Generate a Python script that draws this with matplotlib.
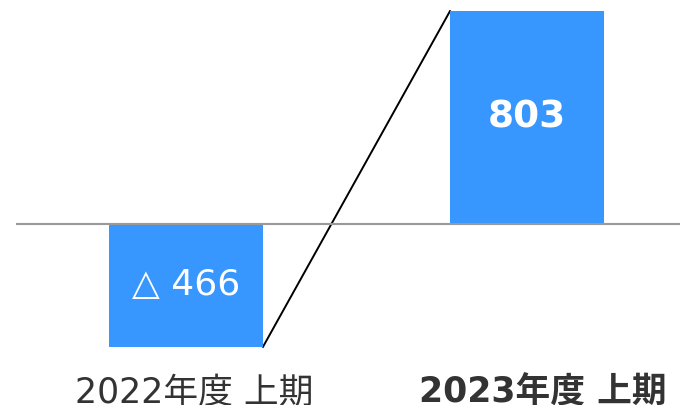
import matplotlib
matplotlib.use("Agg")
import matplotlib.pyplot as plt

plt.rcParams['font.family'] = ['DejaVu Sans', 'Noto Sans CJK JP']

periods = ["2022年度 上期", "2023年度 上期"]
values = [-466, 803]
value_labels = ["△ 466", "803"]
bar_color = "#3797FF"

fig = plt.figure(figsize=(6.8, 4.05), dpi=100)
ax = fig.add_axes([16 / 680, 0, 664 / 680, 1])
ax.set_xlim(-0.4985, 1.4487)
ax.set_ylim(-686, 845)
ax.axis("off")

width = 0.4516
x = [0, 1]
ax.bar(x, values, width=width, color=bar_color, zorder=2)
ax.axhline(0, color="#999999", lw=1.5, zorder=3)

# connector from the end of the first bar to the top of the second
ax.plot([x[0] + width / 2, x[1] - width / 2], [values[0], values[1]],
        color="black", lw=1.4, zorder=1)

ax.text(x[0], values[0] / 2, value_labels[0], ha="center", va="center",
        color="white", fontsize=26)
ax.text(x[1], values[1] / 2, value_labels[1], ha="center", va="center",
        color="white", fontsize=27, fontweight="bold")

label_y = -678
ax.text(x[0] + 0.025, label_y, periods[0], ha="center", va="baseline",
        color="#333333", fontsize=25)
ax.text(x[1] + 0.0455, label_y, periods[1], ha="center", va="baseline",
        color="#333333", fontsize=25, fontweight="bold")

fig.savefig("out.png", dpi=100)
